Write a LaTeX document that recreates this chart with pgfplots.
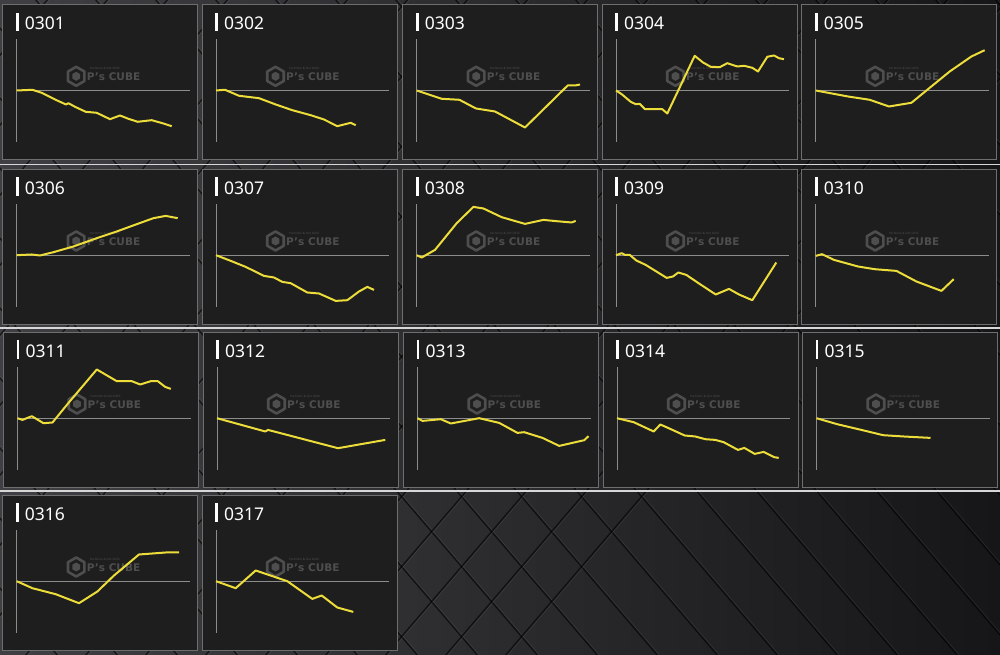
\documentclass[border=0pt]{standalone}
\usepackage{fontspec}
\setmainfont{Noto Sans}
\newfontfamily\wmfont{DejaVu Sans}
\usepackage{pgfplots}
\pgfplotsset{compat=1.18}
\definecolor{panelbg}{RGB}{30,30,30}
\definecolor{panelbd}{RGB}{110,110,110}
\definecolor{lineyel}{RGB}{236,221,58}
\definecolor{zerogr}{RGB}{140,140,140}
\definecolor{wm}{RGB}{78,78,78}
\definecolor{bgL}{RGB}{64,64,68}
\definecolor{bgR}{RGB}{22,22,24}
\definecolor{sep}{RGB}{215,215,215}

\newcommand{\panel}[4]{%
  \pgfmathsetmacro{\pL}{#1}%
  \pgfmathsetmacro{\pT}{655-#2}%
  \fill[panelbg] ({\pL pt},{\pT pt}) rectangle ++(195pt,-155pt);
  \draw[panelbd, line width=0.8pt] ({\pL pt},{\pT pt}) rectangle ++(195pt,-155pt);
  \fill[white] ({\pL pt+13.3pt},{\pT pt-8.3pt}) rectangle ++(2.6pt,-18.3pt);
  \node[anchor=base west, inner sep=0pt, text=white, font=\fontsize{17.5}{19}\selectfont] at ({\pL pt+22pt},{\pT pt-25.2pt}) {#3};
  % watermark
  \draw[wm, line width=2.6pt, line join=round] ({\pL pt+73.5pt},{\pT pt-62.5pt}) -- ++(210:9.5pt) -- ++(270:9.5pt) -- ++(330:9.5pt) -- ++(30:9.5pt) -- ++(90:9.5pt) -- cycle;
  \fill[wm] ({\pL pt+73.5pt},{\pT pt-67.5pt}) -- ++(210:4.5pt) -- ++(270:4.5pt) -- ++(330:4.5pt) -- ++(30:4.5pt) -- ++(90:4.5pt) -- cycle;
  \node[anchor=west, inner sep=0pt, text=wm, font=\wmfont\bfseries\fontsize{10.5}{11}\selectfont] at ({\pL pt+84pt},{\pT pt-72.5pt}) {P’s CUBE};
  \node[anchor=west, inner sep=0pt, text=wm, font=\fontsize{3}{3}\selectfont] at ({\pL pt+87pt},{\pT pt-64pt}) {Pachinko \& Slot DATA};
  \begin{axis}[at={({\pL pt+14pt},{\pT pt-137.7pt})}, anchor=south west,
    scale only axis, width=173.3pt, height=103pt,
    xmin=0, xmax=173.3, ymin=-51.5, ymax=51.5,
    axis lines=none, ticks=none, clip=false]
    \draw[zerogr, line width=0.9pt] (axis cs:0,-51.5) -- (axis cs:0,51.5);
    \draw[zerogr, line width=0.9pt] (axis cs:0,0) -- (axis cs:173.3,0);
    \addplot[lineyel, line width=2pt, line join=round, no markers] coordinates {#4};
  \end{axis}
}

\begin{document}
\begin{tikzpicture}
% background
\begin{scope}
\clip (0,0) rectangle (1000pt,655pt);
\shade[left color=bgL, right color=bgR] (0,0) rectangle (1000pt,655pt);
\foreach \k in {-11,...,17} {
  \draw[black, opacity=0.6, line width=1.6pt] ({(27.4+60*\k)*1pt},665pt) -- ({(606+60*\k)*1pt},-10pt);
  \draw[black, opacity=0.6, line width=1.6pt] ({(56+60*\k)*1pt},665pt) -- ({(-522.6+60*\k)*1pt},-10pt);
  \draw[white, opacity=0.08, line width=0.8pt] ({(29+60*\k)*1pt},665pt) -- ({(607.6+60*\k)*1pt},-10pt);
  \draw[white, opacity=0.08, line width=0.8pt] ({(57.6+60*\k)*1pt},665pt) -- ({(-521+60*\k)*1pt},-10pt);
}
\end{scope}
\draw[sep, line width=1.8pt] (0,490.5pt) -- (1000pt,490.5pt);
\draw[sep, line width=1.8pt] (0,326.7pt) -- (1000pt,326.7pt);
\draw[sep, line width=1.8pt] (0,164pt) -- (1000pt,164pt);

% Row 1
\panel{2.7}{4.3}{0301}{(0,0) (15.7,0.7) (25,-2.3) (38.3,-9) (49.3,-14) (51.7,-12.7) (58.3,-16.3) (69,-21.3) (80,-22.3) (93.3,-28.7) (103.3,-25) (111.7,-28.3) (121,-31.3) (135,-29.7) (146.7,-33) (155,-35.7)}
\panel{202}{4.3}{0302}{(0,0) (9,0.7) (23,-5.3) (43,-7.7) (59.7,-14) (76.3,-19.7) (94.7,-24.7) (108,-29) (121.3,-35.7) (134.7,-32.3) (139.7,-34.7)}
\panel{402.7}{4.3}{0303}{(0,0) (25,-8.3) (42.7,-9.3) (59.3,-18) (78.3,-21) (108.3,-37) (151,5) (158.3,5) (163.3,6)}
\panel{602}{4.3}{0304}{(0,0) (5.7,-3.7) (14.7,-11.3) (19.7,-13.7) (23.7,-13.3) (29,-18.7) (46.3,-18.7) (51.3,-23) (78.7,34.7) (87,28) (94.7,23.7) (103.7,23.3) (111.3,27.3) (121.3,24) (128,24.7) (136.3,22.7) (142,19) (151.3,33.7) (158,35) (163,32.3) (168,31.3)}
\panel{801.7}{4.3}{0305}{(0,0) (32.3,-6) (54,-9.3) (73.3,-16) (95.7,-12.3) (112.3,1.3) (134,19) (155.7,34) (169,40.3)}

% Row 2
\panel{2.7}{169}{0306}{(0,0) (15,0.7) (23.3,-0.3) (36.7,3) (56.7,8.7) (80,17) (100,23.7) (120,31) (136.7,37) (149,39.3) (161,37)}
\panel{202}{169}{0307}{(0,0) (16.3,-6.3) (29.7,-11.7) (48,-20.7) (58,-22.3) (66.3,-26.7) (74.7,-28) (91.3,-37.3) (103,-38.3) (119.7,-45.7) (131.3,-45) (143,-36.3) (151.3,-31.7) (158,-34.7)}
\panel{402.7}{169}{0308}{(0,0) (5,-2.3) (18.3,5.3) (40,32) (56.7,48.3) (66.7,46.7) (85,38) (108.3,31.3) (126.7,35.3) (140,34) (155,32.7) (159,34.3)}
\panel{602}{169}{0309}{(0,0) (5.7,2) (9,0.3) (13.7,0.3) (20.3,-5.3) (29.7,-9.7) (50.7,-22.7) (57,-21.3) (62.3,-17.3) (70.3,-19.7) (83,-28.3) (99.7,-39.3) (113,-33.7) (123,-39.3) (136.3,-45) (160.3,-7.3)}
\panel{801.7}{169}{0310}{(0,-0.7) (6.3,1) (18.3,-4.7) (42.3,-11.3) (59,-14) (80.7,-15.7) (100.7,-26.3) (125.7,-35.7) (138,-24)}

% Row 3
\panel{3.5}{332}{0311}{(0,0) (5,-1.7) (14.3,2) (26,-5) (35,-4.3) (51,15.3) (79.3,48.7) (99.3,37) (114.3,37) (122.7,33.7) (133.3,37) (140.3,37) (147.7,31.3) (153.3,29.3)}
\panel{203}{332}{0312}{(0,0) (48.3,-13.3) (51,-11.7) (121,-30) (168.3,-21.7)}
\panel{403.5}{332}{0313}{(0,0) (5,-2.7) (23.3,-1) (33.3,-5.3) (61.7,0) (81.7,-4.7) (100,-14.7) (106.7,-14) (125,-19.7) (141.7,-27.7) (166.7,-22) (171,-18)}
\panel{603}{332}{0314}{(0,0) (16.7,-4) (36.7,-13.3) (43.3,-6.3) (51,-9.7) (67.7,-17.3) (78.3,-18.3) (88.3,-21) (98.3,-21.7) (106.7,-24) (121,-31.7) (127.3,-29.7) (137.7,-35.7) (146.7,-33.7) (157.3,-39) (161.7,-39.7)}
\panel{802.5}{332}{0315}{(0,0) (20.7,-6) (47.3,-12.3) (66.7,-17) (87.3,-18.3) (114,-19.7)}

% Row 4
\panel{2.7}{495}{0316}{(0,0) (15.7,-7) (39,-13) (62.3,-22) (80.7,-10.3) (97.3,5.7) (122.3,26.7) (149,28.7) (162.3,28.7)}
\panel{202}{495}{0317}{(0,0) (19.7,-7) (39.7,10.7) (71.3,0) (96.3,-17.7) (105.7,-14.3) (121.3,-26.3) (137.3,-30.7)}

\pgfresetboundingbox
\useasboundingbox (0,0) rectangle (1000pt,655pt);
\end{tikzpicture}
\end{document}
